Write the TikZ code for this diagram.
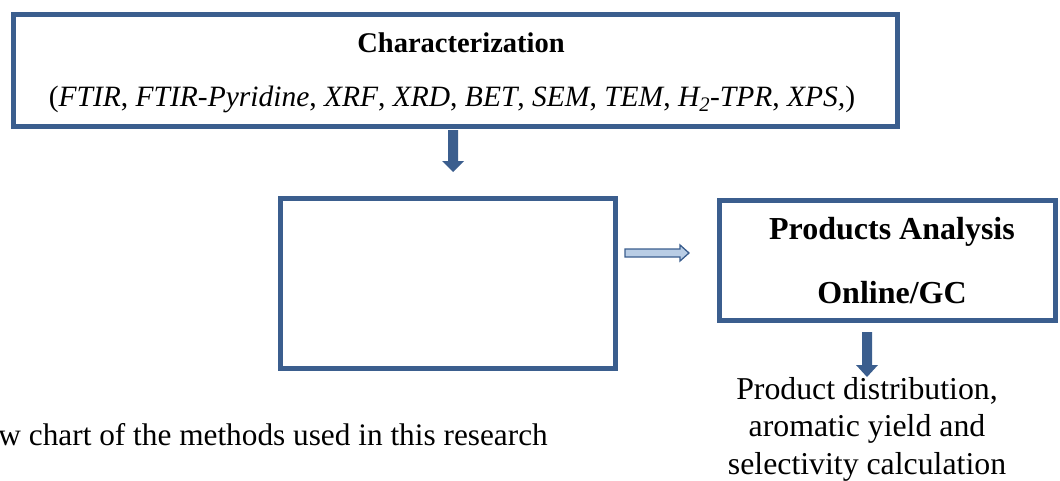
\documentclass[tikz,border=0pt]{standalone}
\usepackage{fontspec}
\setmainfont{Liberation Serif}
\usetikzlibrary{calc}
\definecolor{boxblue}{HTML}{3B5E8E}
\definecolor{lightblue}{HTML}{B9CDE5}
\tikzset{
  box/.style={draw=boxblue, line width=5pt, fill=white, inner sep=0pt, outer sep=0pt},
  lbl/.style={inner sep=0pt, anchor=center},
}
\begin{document}
\begin{tikzpicture}[x=1pt,y=-1pt]
\useasboundingbox (0,0) rectangle (1060,480);
\begin{scope}
\clip (0,0) rectangle (1060,480);
% boxes
\node[box, minimum width=884pt, minimum height=112pt] (top) at (455,70) {};
\node[box, minimum width=335pt, minimum height=170pt] (mid) at (447.5,283) {};
\node[box, minimum width=336pt, minimum height=120pt] (prod) at (887,260) {};
% texts
\node[lbl, font=\fontsize{28.5}{34}\selectfont\bfseries] (t1) at (461,43) {Characterization};
\node[lbl, font=\fontsize{29.5}{35}\selectfont] (t2) at (452,99) {(\textit{FTIR}, \textit{FTIR-Pyridine}, \textit{XRF}, \textit{XRD}, \textit{BET}, \textit{SEM}, \textit{TEM}, \textit{H\textsubscript{2}-TPR}, \textit{XPS,})};
\node[lbl, font=\fontsize{32}{37}\selectfont\bfseries] (p1) at (892,232) {Products Analysis};
\node[lbl, font=\fontsize{32}{37}\selectfont\bfseries] (p2) at (892,293) {Online/GC};
\node[font=\fontsize{31.8}{37.5}\selectfont, align=center, inner sep=0pt, anchor=north] (res) at (867,377) {Product distribution,\\aromatic yield and\\selectivity calculation};
\node[font=\fontsize{31.3}{36}\selectfont, inner sep=0pt, anchor=base east] (cap) at (548,445) {w chart of the methods used in this research};
% arrow 1 (down): top -> mid
\coordinate (a1s) at ($(top.south -| 453,0)+(0,4)$);
\coordinate (a1e) at ($(mid.north -| 453,0)+(0,-26)$);
\fill[boxblue] ($(a1s)+(-5,0)$) -- ($(a1s)+(5,0)$) -- ($(a1e)+(5,-11)$) -- ($(a1e)+(11,-11)$) -- (a1e) -- ($(a1e)+(-11,-11)$) -- ($(a1e)+(-5,-11)$) -- cycle;
% arrow 2 (right, hollow): mid -> prod
\coordinate (a2s) at ($(mid.east |- 0,253)+(10,0)$);
\coordinate (a2e) at ($(prod.west |- 0,253)+(-30,0)$);
\filldraw[fill=lightblue, draw=boxblue, line width=1.3pt] ($(a2s)+(0,-4)$) -- ($(a2e)+(-9,-4)$) -- ($(a2e)+(-9,-8)$) -- (a2e) -- ($(a2e)+(-9,8)$) -- ($(a2e)+(-9,4)$) -- ($(a2s)+(0,4)$) -- cycle;
% arrow 3 (down): prod -> res
\coordinate (a3s) at ($(prod.south -| 867,0)+(0,12)$);
\coordinate (a3e) at ($(res.north)+(0,0)$);
\fill[boxblue] ($(a3s)+(-5,0)$) -- ($(a3s)+(5,0)$) -- ($(a3e)+(5,-12)$) -- ($(a3e)+(11,-12)$) -- (a3e) -- ($(a3e)+(-11,-12)$) -- ($(a3e)+(-5,-12)$) -- cycle;
\end{scope}
\end{tikzpicture}
\end{document}
